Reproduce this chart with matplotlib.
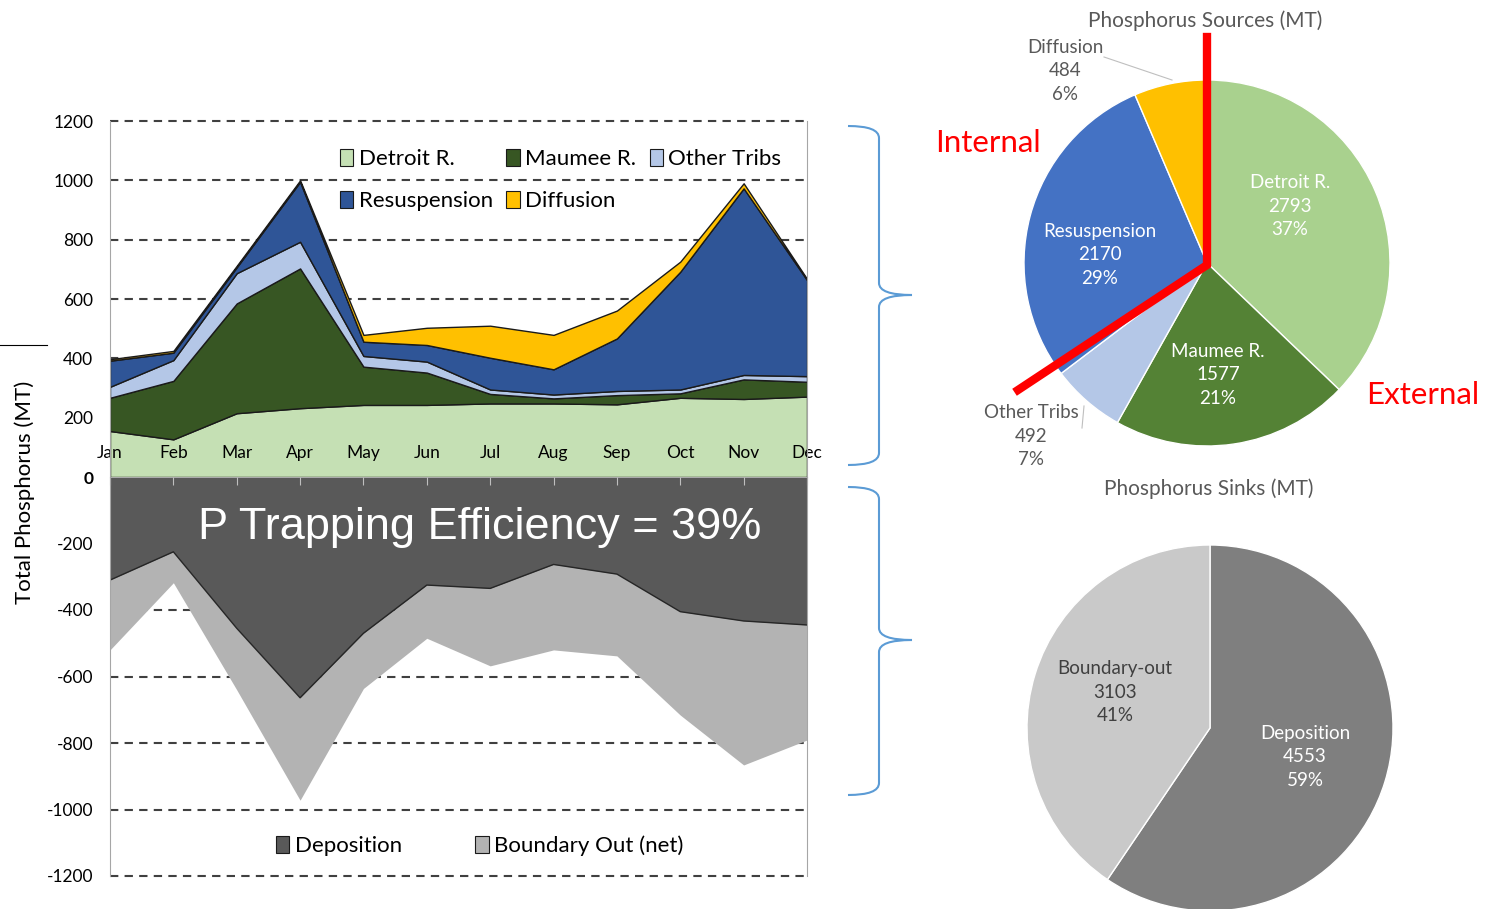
import matplotlib
matplotlib.use("Agg")
import matplotlib.pyplot as plt
import numpy as np
from matplotlib.path import Path
from matplotlib.patches import PathPatch, Patch
from matplotlib.lines import Line2D

W, H = 1499, 909

# monthly values (MT)
months = ['Jan', 'Feb', 'Mar', 'Apr', 'May', 'Jun', 'Jul', 'Aug', 'Sep', 'Oct', 'Nov', 'Dec']
detroit = [155, 127, 215, 232, 243, 243, 248, 248, 245, 267, 263, 271]
maumee = [112, 197, 370, 471, 129, 109, 32, 17, 31, 15, 66, 50]
other_tribs = [37, 70, 102, 90, 36, 37, 15, 13, 14, 13, 15, 19]
resuspension = [88, 25, 20, 202, 48, 56, 107, 85, 177, 397, 629, 324]
diffusion = [5, 6, 5, 5, 23, 58, 108, 116, 94, 34, 17, 4]
deposition = [310, 225, 455, 664, 470, 325, 335, 263, 292, 405, 433, 445]
boundary_out = [210, 93, 185, 308, 166, 160, 233, 257, 246, 311, 433, 346]

# annual totals for the pies
source_labels = ['Detroit R.', 'Maumee R.', 'Other Tribs', 'Resuspension', 'Diffusion']
source_totals = [2793, 1577, 492, 2170, 484]
source_pct = [37, 21, 7, 29, 6]
sink_labels = ['Deposition', 'Boundary-out']
sink_totals = [4553, 3103]
sink_pct = [59, 41]

top_ticks = [200, 400, 600, 800, 1000, 1200]
bot_ticks = [0, -200, -400, -600, -800, -1000, -1200]

src_colors = ['#C5E0B4', '#375623', '#B4C7E7', '#2F5597', '#FFC000']
pie_src_colors = ['#A9D18E', '#548235', '#B4C7E7', '#4472C4', '#FFC000']
sink_colors = ['#595959', '#B3B3B3']
pie_sink_colors = ['#7F7F7F', '#C9C9C9']

FONT = 'Lato'
plt.rcParams['font.family'] = [FONT, 'DejaVu Sans']


def fx(px):
    return px / W


def fy(py):
    return 1 - py / H


fig = plt.figure(figsize=(W / 100, H / 100), dpi=100)

# ---------- top area chart (sources) ----------
ax_top = fig.add_axes([fx(110), fy(477), 697 / W, 356 / H])
x = np.arange(len(months))
for t in top_ticks:
    ax_top.axhline(t, color='#404040', lw=1.5, ls=(0, (4, 3)), zorder=0.5, clip_on=False)
ax_top.stackplot(x, detroit, maumee, other_tribs, resuspension, diffusion,
                 colors=src_colors, edgecolor='#1a1a1a', linewidth=1.0, zorder=1)
ax_top.set_xlim(0, 11)
ax_top.set_ylim(0, 1200)
ax_top.set_xticks(x)
ax_top.set_xticklabels(months, fontsize=12.5)
ax_top.tick_params(axis='x', length=0, pad=-23)
ax_top.set_yticks(top_ticks)
ax_top.set_yticklabels([str(t) for t in top_ticks], fontsize=12.5)
ax_top.tick_params(axis='y', length=0, pad=12)
for s in ['top', 'bottom']:
    ax_top.spines[s].set_visible(False)
for s in ['left', 'right']:
    ax_top.spines[s].set_color('#A6A6A6')

handles = [Patch(facecolor=c, edgecolor='#1a1a1a', lw=0.8) for c in src_colors]
order = [0, 3, 1, 4, 2]
ax_top.legend([handles[i] for i in order], [source_labels[i] for i in order],
              ncol=3, loc='upper left', bbox_to_anchor=((340 - 110) / 697, (477 - 149) / 356),
              frameon=False, fontsize=16, handlelength=0.6, handleheight=0.8,
              handletextpad=0.25, columnspacing=0.6, labelspacing=0.98,
              borderpad=0, borderaxespad=0)

# ---------- bottom area chart (sinks) ----------
ax_bot = fig.add_axes([fx(110), fy(876), 697 / W, 399 / H])
for t in bot_ticks[1:]:
    ax_bot.axhline(t, color='#404040', lw=1.5, ls=(0, (4, 3)), zorder=0.5, clip_on=False)
dep = -np.array(deposition)
tot = dep - np.array(boundary_out)
ax_bot.fill_between(x, dep, tot, color=sink_colors[1], lw=0, zorder=1)
ax_bot.fill_between(x, 0, dep, color=sink_colors[0], lw=0, zorder=1.1)
ax_bot.plot(x, dep, color='#262626', lw=1.0, zorder=1.2)
ax_bot.set_xlim(0, 11)
ax_bot.set_ylim(-1200, 0)
ax_bot.set_xticks(x)
ax_bot.tick_params(axis='x', top=True, bottom=False, labeltop=False, labelbottom=False,
                   direction='in', length=6, color='#BFBFBF')
ax_bot.set_yticks(bot_ticks)
ax_bot.set_yticklabels([str(t) for t in bot_ticks], fontsize=12.5)
ax_bot.tick_params(axis='y', length=0, pad=12)
ax_bot.get_yticklabels()[0].set_fontweight('bold')
for s in ['top', 'bottom']:
    ax_bot.spines[s].set_visible(False)
for s in ['left', 'right']:
    ax_bot.spines[s].set_color('#A6A6A6')
ax_bot.text((480 - 110) / 697, (876 - 528) / 399, 'P Trapping Efficiency = 39%',
            transform=ax_bot.transAxes, ha='center', va='center', color='white',
            fontsize=32.5, family='Liberation Sans', zorder=3)
sh = [Patch(facecolor=c, edgecolor='#1a1a1a', lw=0.8) for c in sink_colors]
ax_bot.legend(sh, ['Deposition', 'Boundary Out (net)'], ncol=2, loc='center left',
              bbox_to_anchor=((276 - 110) / 697, (876 - 846) / 399), frameon=False,
              fontsize=16, handlelength=0.6, handleheight=0.8, handletextpad=0.25,
              columnspacing=3.3, borderpad=0, borderaxespad=0)

fig.text(fx(25), fy(492), 'Total Phosphorus (MT)', rotation=90, ha='center', va='center',
         fontsize=16)
fig.add_artist(Line2D([0, fx(47)], [fy(345), fy(345)], color='black', lw=0.8,
                      transform=fig.transFigure))

# ---------- braces ----------
def brace(x_tip, x_mid, x_pt, y_top, y_mid, y_bot, r=12):
    pts = [(x_tip, y_top), (x_mid, y_top), (x_mid, y_top + r),
           (x_mid, y_mid - r), (x_mid, y_mid), (x_pt, y_mid),
           (x_mid, y_mid), (x_mid, y_mid + r),
           (x_mid, y_bot - r), (x_mid, y_bot), (x_tip, y_bot)]
    codes = [Path.MOVETO, Path.CURVE3, Path.CURVE3,
             Path.LINETO, Path.CURVE3, Path.CURVE3,
             Path.CURVE3, Path.CURVE3,
             Path.LINETO, Path.CURVE3, Path.CURVE3]
    pts = [(fx(a), fy(b)) for a, b in pts]
    fig.add_artist(PathPatch(Path(pts, codes), fill=False, edgecolor='#5B9BD5', lw=1.5,
                             transform=fig.transFigure))


brace(848, 879, 912, 126, 295, 465)
brace(848, 879, 912, 487, 640, 795)

# ---------- sources pie ----------
R = 183
ax_p1 = fig.add_axes([fx(1207 - R), fy(263 + R), 2 * R / W, 2 * R / H])
ax_p1.pie(source_totals, colors=pie_src_colors, startangle=90, counterclock=False,
          wedgeprops=dict(edgecolor='white', linewidth=1))
ax_p1.set_xlim(-1, 1)
ax_p1.set_ylim(-1, 1)
fig.text(fx(1205), fy(21), 'Phosphorus Sources (MT)', ha='center', va='center',
         fontsize=15, color='#595959')

src_pos = [(1290, 206, 'white'), (1218, 375, 'white'), (1031, 436, '#595959'),
           (1100, 255, 'white'), (1065, 71, '#595959')]
for (px, py, col), lab, v, p in zip(src_pos, source_labels, source_totals, source_pct):
    fig.text(fx(px), fy(py), f'{lab}\n{v}\n{p}%', ha='center', va='center', fontsize=13.5,
             color=col, linespacing=1.45)
fig.add_artist(Line2D([fx(1104), fx(1172)], [fy(57), fy(80)], color='#BFBFBF', lw=0.8,
                      transform=fig.transFigure))
fig.add_artist(Line2D([fx(1082), fx(1084)], [fy(428), fy(406)], color='#BFBFBF', lw=0.8,
                      transform=fig.transFigure))

fig.add_artist(Line2D([fx(1207), fx(1207), fx(1018)], [fy(37), fy(265), fy(390)],
                      color='#FF0000', lw=6, solid_joinstyle='miter',
                      transform=fig.transFigure))
fig.text(fx(988), fy(143), 'Internal', ha='center', va='center', fontsize=22.5, color='#FF0000')
fig.text(fx(1423), fy(395), 'External', ha='center', va='center', fontsize=22.5, color='#FF0000')

# ---------- sinks pie ----------
ax_p2 = fig.add_axes([fx(1210 - R), fy(728 + R), 2 * R / W, 2 * R / H])
ax_p2.pie(sink_totals, colors=pie_sink_colors, startangle=90, counterclock=False,
          wedgeprops=dict(edgecolor='white', linewidth=1, clip_on=False))
ax_p2.set_xlim(-1, 1)
ax_p2.set_ylim(-1, 1)
fig.text(fx(1209), fy(489), 'Phosphorus Sinks (MT)', ha='center', va='center',
         fontsize=15, color='#595959')
sink_pos = [(1305, 757, 'white'), (1115, 692, '#404040')]
for (px, py, col), lab, v, p in zip(sink_pos, sink_labels, sink_totals, sink_pct):
    fig.text(fx(px), fy(py), f'{lab}\n{v}\n{p}%', ha='center', va='center', fontsize=13.5,
             color=col, linespacing=1.45)

fig.savefig('out.png', dpi=100)
